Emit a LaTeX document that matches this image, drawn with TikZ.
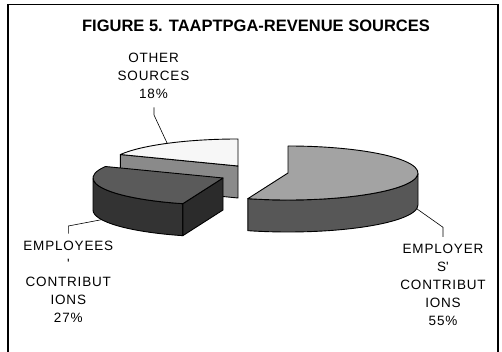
\documentclass[tikz,border=0pt]{standalone}
\usepackage{fontspec}
\setmainfont{Liberation Sans}
\usetikzlibrary{positioning,calc}

\definecolor{othtop}{HTML}{F7F7F7}
\definecolor{othface}{HTML}{8A8A8A}
\definecolor{emptop}{HTML}{5A5A5A}
\definecolor{empside}{HTML}{333333}
\definecolor{empface}{HTML}{2B2B2B}
\definecolor{emrtop}{HTML}{A3A3A3}
\definecolor{emrside}{HTML}{575757}

\tikzset{
  slice/.style={draw=black, line width=0.9pt, line join=round},
  pielabel/.style={align=center, inner sep=0pt, anchor=north,
    font=\fontsize{13.5}{18}\selectfont\addfontfeature{LetterSpace=6}},
  leader/.style={draw=black, line width=0.6pt},
}

\begin{document}
\begin{tikzpicture}[x=1pt, y=1pt]
    \useasboundingbox (0,0) rectangle (502,352);

    % Frame
    \draw[line width=1.5pt] (8,-3) -- (8,347.5) -- (498,347.5) -- (498,-3);

    % Title
    \node[anchor=base, font=\bfseries\fontsize{16.5}{18}\selectfont] (title) at (256,320.3) {FIGURE 5. TAAPTPGA-REVENUE SOURCES};

    % Pie centres
    \coordinate (oc) at (238,186);
    \coordinate (mc) at (223,174);
    \coordinate (ec) at (288,179);

    % Other sources (18%)
    \path (oc) ++(154.8:130 and 27) coordinate (o1) ++(0,-32) coordinate (o1b);
    \path (oc) ++(90:130 and 27) coordinate (o2);
    \path (oc) ++(0,-32) coordinate (ocb);
    \draw[slice, fill=othface] (oc) -- (o1) -- (o1b) -- (ocb) -- cycle;
    \draw[slice, fill=othtop] (oc) -- (o2) arc[start angle=90, end angle=154.8, x radius=130, y radius=27] -- cycle;

    % Employees' contributions (27%)
    \path (mc) ++(154.8:130 and 27) coordinate (m0);
    \path (mc) ++(180:130 and 27) coordinate (m1);
    \path (mc) ++(252:130 and 27) coordinate (m2) ++(0,-32) coordinate (m2b);
    \path (mc) ++(0,-32) coordinate (mcb);
    \draw[slice, fill=empside] (m1) arc[start angle=180, end angle=252, x radius=130, y radius=27]
        -- (m2b) arc[start angle=252, end angle=180, x radius=130, y radius=27] -- cycle;
    \draw[slice, fill=empface] (mc) -- (m2) -- (m2b) -- (mcb) -- cycle;
    \draw[slice, fill=emptop] (mc) -- (m0) arc[start angle=154.8, end angle=252, x radius=130, y radius=27] -- cycle;

    % Employers' contributions (55%)
    \path (ec) ++(-108:130 and 27) coordinate (e1) ++(0,-32) coordinate (e1b);
    \path (ec) ++(0:130 and 27) coordinate (e2) ++(0,-32) coordinate (e2b);
    \path (ec) ++(90:130 and 27) coordinate (e3);
    \draw[slice, fill=emrside] (e1) arc[start angle=-108, end angle=0, x radius=130, y radius=27]
        -- (e2b) arc[start angle=0, end angle=-108, x radius=130, y radius=27] -- cycle;
    \draw[slice, fill=emrtop] (ec) -- (e1) arc[start angle=-108, end angle=90, x radius=130, y radius=27] -- cycle;

    % Labels
    \node[pielabel] (othlbl) at (153.5,298.7) {OTHER\\SOURCES\\18\%};
    \node[pielabel] (emrlbl) at (443,108) {EMPLOYER\\S\textquotesingle\\CONTRIBUT\\IONS\\55\%};
    \node[pielabel] (emplbl) at (68.3,111.3) {EMPLOYEES\\\textquotesingle\\CONTRIBUT\\IONS\\27\%};

    % Leaders
    \path (oc) ++(123:130 and 27) coordinate (othtip);
    \coordinate (othknee) at (154,237);
    \draw[leader] ([yshift=-8pt]othlbl.south -| othknee) -- (othknee) -- (othtip);

    \path (ec) ++(0,-32) ++(-8:130 and 27) coordinate (emrtip);
    \coordinate (emrknee) at (443,124.7);
    \draw[leader] (emrtip) -- (emrknee) -- ([yshift=7pt]emrlbl.north);

    \path (mc) ++(0,-32) ++(201:130 and 27) coordinate (emptip);
    \coordinate (empknee) at (68.3,126);
    \draw[leader] (emptip) -- (empknee) -- ([yshift=7pt]emplbl.north);
\end{tikzpicture}
\end{document}
